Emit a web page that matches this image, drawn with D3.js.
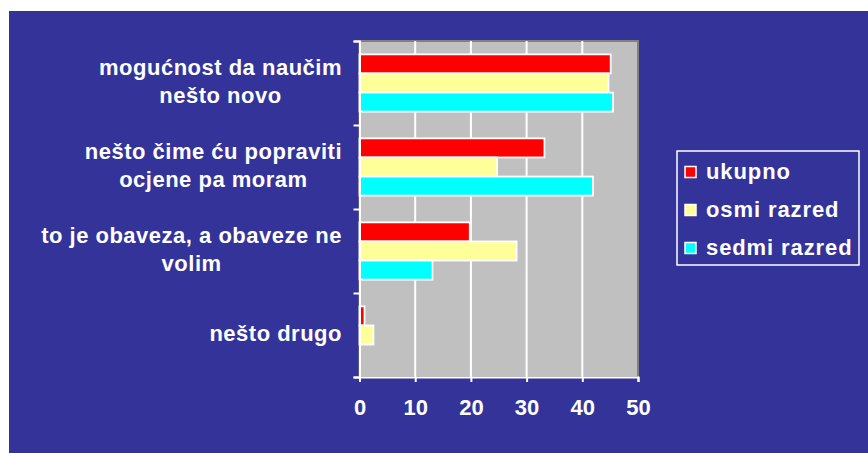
<!DOCTYPE html>
<html><head><meta charset="utf-8">
<script src="https://cdn.jsdelivr.net/npm/d3@7"></script>
<style>
html,body{margin:0;padding:0;background:#fff;}
svg text{font-family:"Liberation Sans",Arial,sans-serif;font-weight:bold;fill:#fff;}
</style></head>
<body>
<svg id="c" width="868" height="453"></svg>
<script>
const categories = [
  ["mogućnost da naučim","nešto novo"],
  ["nešto čime ću popraviti","ocjene pa moram"],
  ["to je obaveza, a obaveze ne","volim"],
  ["nešto drugo"]
];
const seriesNames = ["ukupno","osmi razred","sedmi razred"];
const seriesColors = ["#FF0000","#FFFF99","#00FFFF"];
const ukupno = [45.1, 33.2, 19.8, 0.9];
const osmiRazred = [44.7, 24.7, 28.2, 2.5];
const sedmiRazred = [45.5, 41.9, 13.1, 0];
const xTicks = [0,10,20,30,40,50];

(function(){
const seriesValues = [ukupno, osmiRazred, sedmiRazred];
const svg = d3.select("#c");
svg.append("rect").attr("x",9).attr("y",11).attr("width",859).attr("height",442).attr("fill","#333399");

const pL=359.5, pR=638, pT=41, pB=377;
const x = d3.scaleLinear().domain([0,50]).range([pL,pR]);
const y = d3.scaleBand().domain(d3.range(categories.length)).range([pT,pB]).paddingInner(0).paddingOuter(0);
const inner = d3.scaleBand().domain(d3.range(seriesNames.length)).range([0,y.bandwidth()]).paddingOuter(0.7).paddingInner(0);

// plot area
svg.append("rect").attr("x",pL).attr("y",pT).attr("width",pR-pL).attr("height",pB-pT)
  .attr("fill","#C0C0C0").attr("stroke","#808080").attr("stroke-width",2);

// gridlines
svg.append("g").selectAll("line").data(xTicks.filter(t=>t>0&&t<50)).join("line")
  .attr("x1",d=>x(d)).attr("x2",d=>x(d)).attr("y1",pT).attr("y2",pB)
  .attr("stroke","#fff").attr("stroke-width",2);

// bars
const g = svg.append("g");
seriesValues.forEach((vals,si)=>{
  g.selectAll(null).data(vals.map((v,i)=>({v,i})).filter(d=>d.v>0)).join("rect")
    .attr("x",x(0)).attr("y",d=>y(d.i)+inner(si))
    .attr("width",d=>x(d.v)-x(0)).attr("height",inner.bandwidth())
    .attr("fill",seriesColors[si]).attr("stroke","#fff").attr("stroke-width",1.8);
});

// axes
const xa = svg.append("g").attr("transform",`translate(0,${pB})`)
  .call(d3.axisBottom(x).tickValues(xTicks).tickSize(5).tickPadding(17).tickFormat(d3.format("d")));
xa.select(".domain").attr("stroke","#fff").attr("stroke-width",2);
xa.selectAll(".tick line").attr("stroke","#fff").attr("stroke-width",2);
xa.selectAll(".tick text").attr("font-size",22).attr("fill","#fff").attr("dy","0.71em");

const ya = svg.append("g").attr("transform",`translate(${pL},0)`)
  .call(d3.axisLeft(d3.scaleLinear().domain([0,4]).range([pT,pB])).ticks(4).tickSize(6).tickFormat(""));
ya.select(".domain").attr("stroke","#fff").attr("stroke-width",2);
ya.selectAll(".tick line").attr("stroke","#fff").attr("stroke-width",2);
xa.attr("font-family",null); ya.attr("font-family",null);

// category labels
const labelRight = 342;
categories.forEach((lines,i)=>{
  const cy = y(i)+y.bandwidth()/2;
  const grp = svg.append("g");
  const texts = lines.map((ln,k)=>grp.append("text").text(ln)
    .attr("font-size",22).attr("letter-spacing","0.5px")
    .attr("text-anchor","middle")
    .attr("y", cy + 6 + (k-(lines.length-1)/2)*28));
  const w = d3.max(texts, t=>t.node().getComputedTextLength());
  const c = labelRight - w/2;
  texts.forEach(t=>t.attr("x",c));
});

// legend
svg.append("rect").attr("x",677).attr("y",151).attr("width",182).attr("height",114)
  .attr("fill","none").attr("stroke","#fff").attr("stroke-width",1.5);
const lg = svg.append("g");
seriesNames.forEach((n,i)=>{
  const cy = 172 + i*38;
  lg.append("rect").attr("x",685).attr("y",cy-5.5).attr("width",11).attr("height",11)
    .attr("fill",seriesColors[i]).attr("stroke","#fff").attr("stroke-width",1.5);
  lg.append("text").attr("x",706).attr("y",cy+7).text(n).attr("font-size",22).attr("letter-spacing","0.9px");
});
})();
</script>
</body></html>
